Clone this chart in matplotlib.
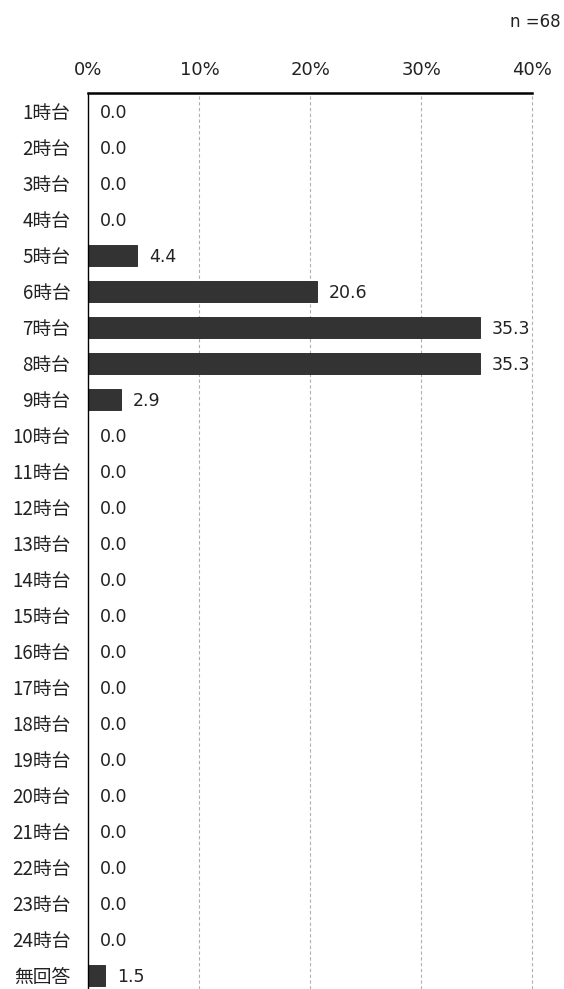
import numpy as np
import matplotlib.pyplot as plt

# データ
categories = [f"{h}時台" for h in range(1, 25)] + ["無回答"]
values = [0.0, 0.0, 0.0, 0.0, 4.4, 20.6, 35.3, 35.3, 2.9,
          0.0, 0.0, 0.0, 0.0, 0.0, 0.0, 0.0, 0.0, 0.0, 0.0,
          0.0, 0.0, 0.0, 0.0, 0.0, 1.5]
xticks = [0, 10, 20, 30, 40]
xtick_labels = ["0%", "10%", "20%", "30%", "40%"]
n_label = "n =68"

plt.rcParams['font.family'] = ['DejaVu Sans']
jp_font = ['Noto Sans CJK JP', 'DejaVu Sans']

fig = plt.figure(figsize=(5.64, 9.89), dpi=100)
ax = fig.add_axes([0.1569, 0.0, 0.9438 - 0.1569, 1 - 92.5 / 989])

y = np.arange(len(categories))
ax.barh(y, values, height=0.575, color='#333333', edgecolor='#222222', linewidth=0.6, zorder=3)

for yi, v in zip(y, values):
    ax.annotate(f"{v:.1f}", xy=(v, yi), xytext=(8.5, -1.5), textcoords='offset points',
                ha='left', va='center', fontsize=12.5, color='#222222', zorder=4)

ax.set_xlim(0, 40)
ax.set_ylim(24.38, -0.52)
ax.xaxis.tick_top()
ax.set_xticks(xticks)
ax.set_xticklabels(xtick_labels, fontsize=13, color='#222222')
ax.tick_params(axis='x', length=0, pad=10)
ax.set_yticks(y)
ax.set_yticklabels(categories, family=jp_font, fontsize=13.5, color='#222222')
ax.tick_params(axis='y', length=0, pad=13)

# 目盛り線 (点線)
for xt in xticks[1:]:
    ax.axvline(xt, color='#b0b0b0', linestyle=(0, (3, 2.2)), linewidth=0.8, zorder=0, clip_on=False)
for s in ['right', 'bottom']:
    ax.spines[s].set_visible(False)
ax.spines['top'].set_linewidth(1.8)
ax.spines['left'].set_linewidth(1.0)
ax.spines['top'].set_zorder(5)
ax.spines['left'].set_zorder(5)

fig.text(561 / 564, 1 - 22 / 989, n_label, ha='right', va='center', fontsize=12, color='#222222')

fig.savefig('out.png', dpi=100)
